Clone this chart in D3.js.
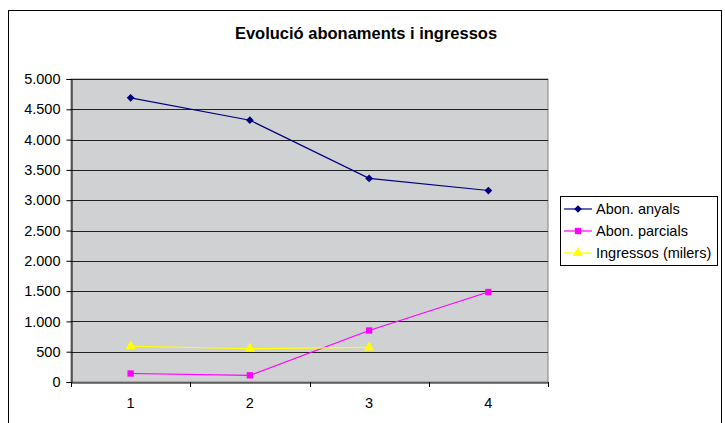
<!DOCTYPE html>
<html><head><meta charset="utf-8">
<script src="https://cdn.jsdelivr.net/npm/d3@7"></script>
<style>body{margin:0;background:#fff}svg{display:block;font-family:"Liberation Sans",Arial,sans-serif}</style>
</head><body><svg id="c" width="725" height="423"></svg>
<script>
const categories = ["1","2","3","4"];
const anyals = [4690, 4320, 3360, 3160];
const parcials = [140, 110, 850, 1485];
const ingressos = [590, 550, 570, null];
const yTicks = [0,500,1000,1500,2000,2500,3000,3500,4000,4500,5000];
const seriesNames = ["Abon. anyals","Abon. parcials","Ingressos (milers)"];

const svg = d3.select("#c");
svg.append("rect").attr("x",8.5).attr("y",10.5).attr("width",713).attr("height",420)
  .attr("fill","#fff").attr("stroke","#000");
svg.append("text").attr("x",366).attr("y",39).attr("text-anchor","middle")
  .attr("font-size",16.5).attr("font-weight","bold").text("Evolució abonaments i ingressos");

const L=71, R=548, T=79, B=382;
const x = d3.scaleBand().domain(categories).range([L,R]);
const y = d3.scaleLinear().domain([0,5000]).range([B,T]);
svg.append("rect").attr("x",L).attr("y",T).attr("width",R-L).attr("height",B-T).attr("fill","#d0d1d3")
  .attr("stroke","#808080");
svg.append("g").selectAll("line").data(yTicks.filter(d=>d>0)).join("line")
  .attr("x1",L).attr("x2",R).attr("y1",d=>Math.round(y(d))+0.5).attr("y2",d=>Math.round(y(d))+0.5)
  .attr("stroke","#222").attr("stroke-width",1);
const fmt = d=>d3.format(",")(d).replace(/,/g,".");
const ya = svg.append("g").attr("transform",`translate(${L+0.5},0)`)
  .call(d3.axisLeft(y).tickValues(yTicks).tickFormat(fmt).tickSizeOuter(0).tickSize(5).tickPadding(6));
ya.selectAll("text").attr("font-size",14.5).attr("fill","#000").attr("font-family","Liberation Sans, Arial");
ya.select(".domain").attr("stroke","#000");
ya.selectAll(".tick line").attr("stroke","#000");
const xa = svg.append("g").attr("transform",`translate(0,${B+0.5})`)
  .call(d3.axisBottom(x).tickSize(0).tickPadding(15));
xa.selectAll("text").attr("font-size",14.5).attr("fill","#000").attr("font-family","Liberation Sans, Arial");
xa.select(".domain").attr("stroke","#000");
svg.append("g").selectAll("line").data(d3.range(categories.length+1)).join("line")
  .attr("x1",i=>Math.round(L+i*x.step())+0.5).attr("x2",i=>Math.round(L+i*x.step())+0.5)
  .attr("y1",B).attr("y2",B+5).attr("stroke","#000");

const cx = c=>x(c)+x.bandwidth()/2;
const series = [
  {name:seriesNames[0], vals:anyals, color:"#000080", sym:d3.symbolSquare, size:30, rot:45},
  {name:seriesNames[1], vals:parcials, color:"#ff00ff", sym:d3.symbolSquare, size:40, rot:0},
  {name:seriesNames[2], vals:ingressos, color:"#ffff00", sym:d3.symbolTriangle, size:45, rot:0}
];
const line = d3.line().defined(d=>d.v!=null).x(d=>cx(d.c)).y(d=>y(d.v));
series.forEach(s=>{
  const pts = categories.map((c,i)=>({c, v:s.vals[i]}));
  svg.append("path").datum(pts).attr("d",line).attr("fill","none").attr("stroke",s.color).attr("stroke-width",1.2);
  svg.append("g").selectAll("path").data(pts.filter(p=>p.v!=null)).join("path")
    .attr("d",d3.symbol(s.sym,s.size)).attr("transform",p=>`translate(${cx(p.c)},${y(p.v)}) rotate(${s.rot})`).attr("fill",s.color);
});

const lg = svg.append("g");
lg.append("rect").attr("x",560.5).attr("y",196.5).attr("width",157).attr("height",69).attr("fill","#fff").attr("stroke","#000");
series.forEach((s,i)=>{
  const yy = 209 + i*22;
  lg.append("line").attr("x1",564).attr("x2",592).attr("y1",yy).attr("y2",yy).attr("stroke",s.color).attr("stroke-width",1.2);
  lg.append("path").attr("d",d3.symbol(s.sym,s.size)).attr("transform",`translate(578,${yy}) rotate(${s.rot})`).attr("fill",s.color);
  lg.append("text").attr("x",596).attr("y",yy+5).attr("font-size",14.5).text(s.name);
});
</script></body></html>
